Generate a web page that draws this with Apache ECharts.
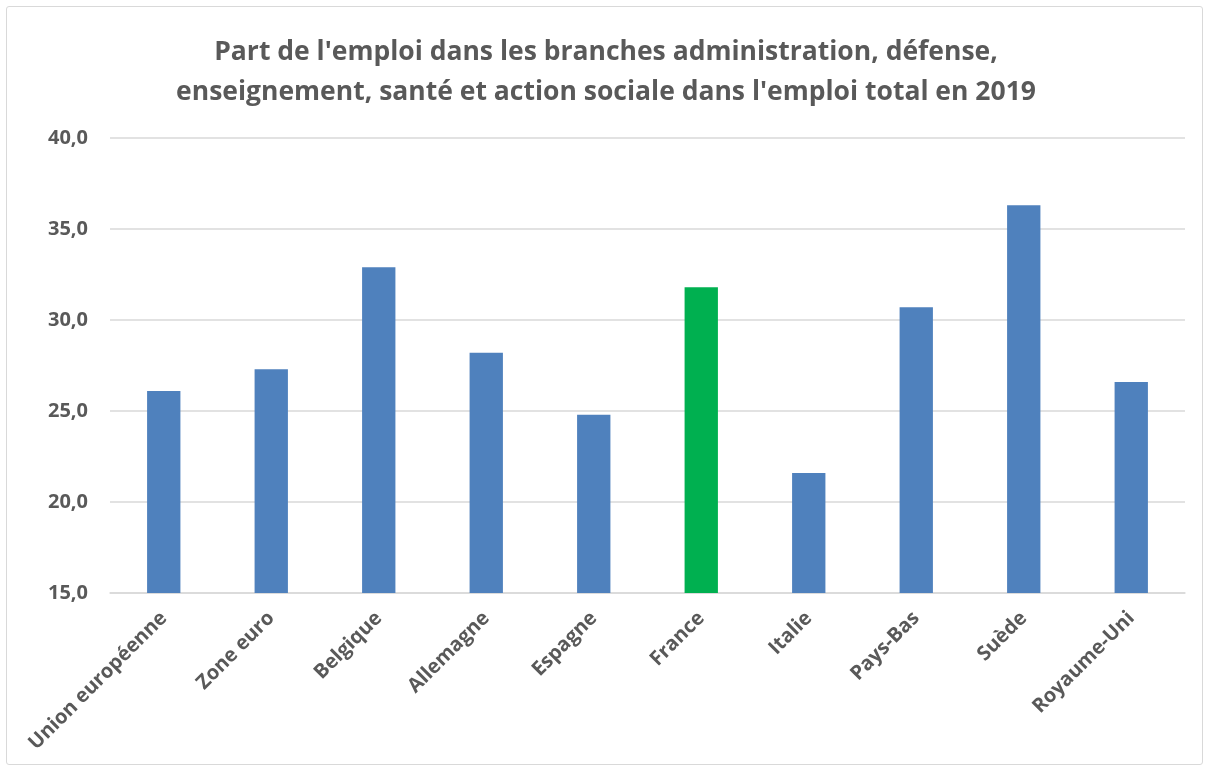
<!DOCTYPE html>
<html><head><meta charset="utf-8">
<script src="https://cdn.jsdelivr.net/npm/echarts@6/dist/echarts.min.js"></script>
<style>
html,body{margin:0;padding:0;background:#fff;}
#frame{position:absolute;left:6px;top:6px;width:1197px;height:759px;border:1.5px solid #d9d9d9;border-radius:3px;box-sizing:border-box;}
#c{position:absolute;left:0;top:0;width:1212px;height:774px;}
</style></head>
<body>
<div id="frame"></div>
<div id="c"></div>
<script>
const categories = ["Union européenne","Zone euro","Belgique","Allemagne","Espagne","France","Italie","Pays-Bas","Suède","Royaume-Uni"];
const values = [26.1, 27.3, 32.9, 28.2, 24.8, 31.8, 21.6, 30.7, 36.3, 26.6];
const highlight = "France";
const titleLines = ["Part de l'emploi dans les branches administration, défense,", "enseignement, santé et action sociale dans l'emploi total en 2019"];
const yMin = 15, yMax = 40, yStep = 5;

const chart = echarts.init(document.getElementById('c'));
const FONT = "'Open Sans', sans-serif";
chart.setOption({
  animation: false,
  title: {
    text: titleLines.join('\n'),
    left: 'center', top: 27,
    textStyle: {fontFamily: FONT, fontSize: 26.5, fontWeight: 'bold', color: '#595959', lineHeight: 40}
  },
  grid: {left: 110, right: 27, top: 138, bottom: 181, containLabel: false},
  xAxis: {
    type: 'category', data: categories,
    axisLine: {show: true, lineStyle: {color: '#d9d9d9', width: 1.5}},
    axisTick: {show: false},
    axisLabel: {rotate: 45, interval: 0, margin: 22, fontFamily: FONT, fontSize: 20, fontWeight: 'bold', color: '#595959'}
  },
  yAxis: {
    type: 'value', min: yMin, max: yMax, interval: yStep,
    axisLine: {show: false}, axisTick: {show: false},
    splitLine: {lineStyle: {color: '#d9d9d9', width: 1.5}},
    axisLabel: {margin: 22, fontFamily: FONT, fontSize: 20, fontWeight: 'bold', color: '#595959',
      formatter: v => v.toFixed(1).replace('.', ',')}
  },
  series: [{
    type: 'bar', barWidth: '31%',
    data: values.map((v, i) => ({value: v, itemStyle: {color: categories[i] === highlight ? '#00b050' : '#4f81bd'}}))
  }]
});
</script>
</body></html>
